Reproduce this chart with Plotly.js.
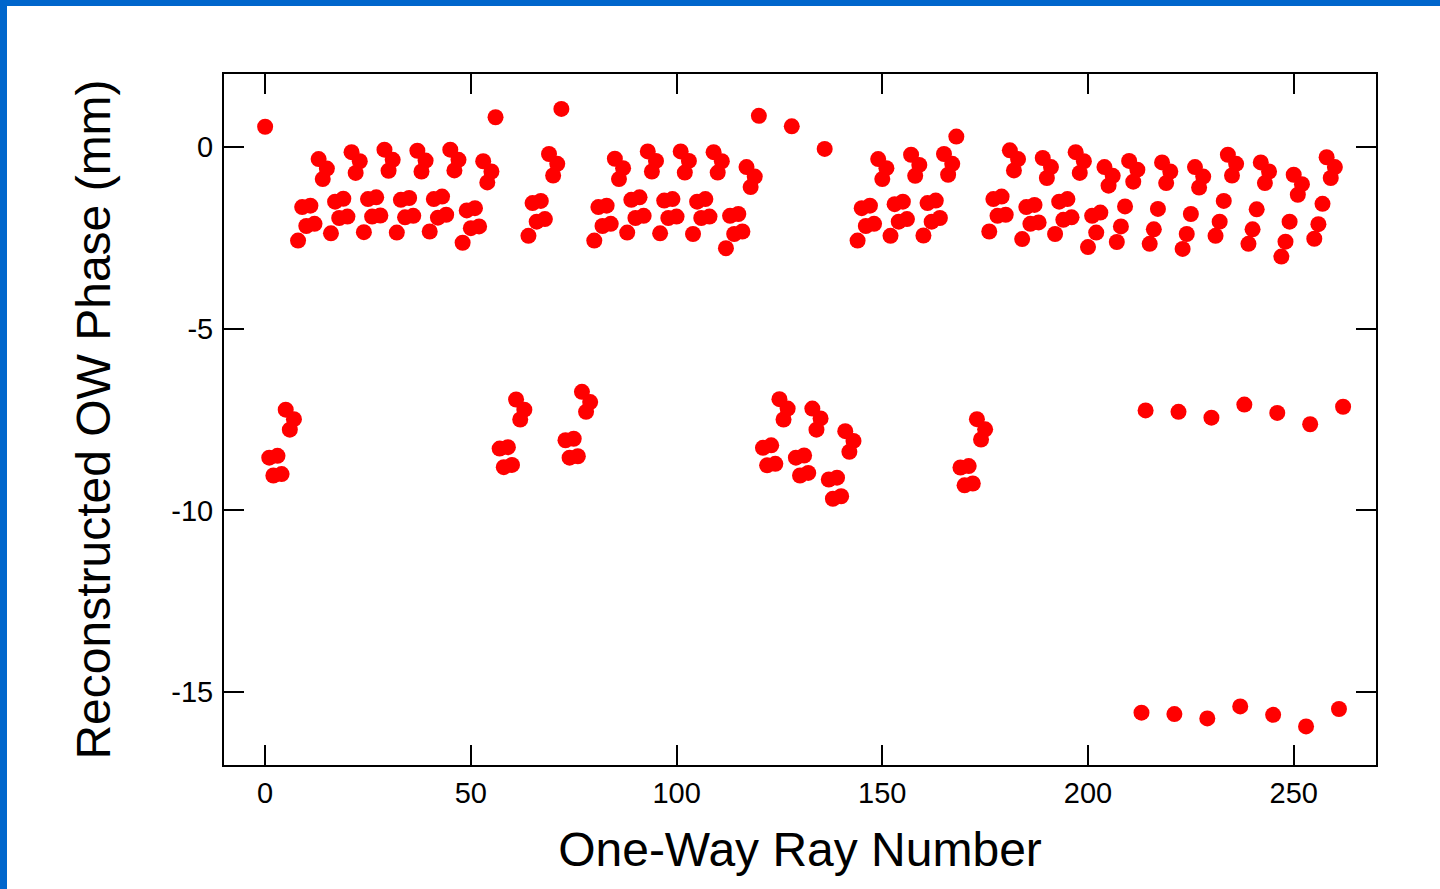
<!DOCTYPE html>
<html>
<head>
<meta charset="utf-8">
<script src="https://cdn.plot.ly/plotly-3.0.1.min.js"></script>
<style>
  html, body { margin: 0; padding: 0; background: #ffffff; }
  #wrap { position: relative; width: 1440px; height: 889px; overflow: hidden; }
  #chart { position: absolute; left: 0; top: 0; width: 1440px; height: 889px; }
  #bl { position: absolute; left: 0; top: 0; width: 7px; height: 889px; background: #0066CC; }
  #bt { position: absolute; left: 0; top: 0; width: 1440px; height: 6px; background: #0066CC; }
</style>
</head>
<body>
<div id="wrap">
  <div id="chart"></div>
  <div id="bl"></div>
  <div id="bt"></div>
</div>
<script>
// One-way ray numbers 0..262 and reconstructed phase (mm)
const rayNumber = [];
for (let i = 0; i <= 262; i++) rayNumber.push(i);

const owPhase = [
  // 0-7
  0.55, -8.55, -9.04, -8.50, -9.00, -7.23, -7.78, -7.49,
  // 8-15
  -2.58, -1.66, -2.18, -1.62, -2.12, -0.34, -0.89, -0.60,
  // 16-23
  -2.38, -1.51, -1.96, -1.43, -1.92, -0.15, -0.72, -0.40,
  // 24-31
  -2.35, -1.44, -1.92, -1.39, -1.89, -0.08, -0.66, -0.36,
  // 32-39
  -2.36, -1.46, -1.94, -1.41, -1.90, -0.11, -0.68, -0.38,
  // 40-47
  -2.33, -1.44, -1.95, -1.37, -1.87, -0.08, -0.65, -0.36,
  // 48-55
  -2.64, -1.75, -2.24, -1.69, -2.19, -0.40, -0.98, -0.68,
  // 56-63
  0.81, -8.30, -8.81, -8.26, -8.75, -6.95, -7.50, -7.23,
  // 64-71
  -2.45, -1.55, -2.06, -1.49, -1.99, -0.20, -0.79, -0.47,
  // 72-79
  1.04, -8.07, -8.55, -8.03, -8.51, -6.74, -7.29, -7.02,
  // 80-87
  -2.58, -1.66, -2.18, -1.62, -2.12, -0.33, -0.89, -0.59,
  // 88-95
  -2.36, -1.46, -1.96, -1.39, -1.90, -0.13, -0.68, -0.39,
  // 96-103
  -2.38, -1.48, -1.96, -1.44, -1.92, -0.13, -0.71, -0.39,
  // 104-111
  -2.40, -1.51, -1.96, -1.44, -1.92, -0.15, -0.71, -0.40,
  // 112-119
  -2.79, -1.90, -2.40, -1.85, -2.33, -0.56, -1.11, -0.82,
  // 120-127
  0.85, -8.28, -8.76, -8.21, -8.72, -6.94, -7.50, -7.20,
  // 128-135
  0.56, -8.55, -9.04, -8.49, -8.97, -7.20, -7.78, -7.47,
  // 136-143
  -0.06, -9.15, -9.68, -9.10, -9.61, -7.82, -8.39, -8.09,
  // 144-151
  -2.58, -1.69, -2.18, -1.62, -2.12, -0.34, -0.89, -0.59,
  // 152-159
  -2.45, -1.58, -2.06, -1.51, -1.99, -0.22, -0.80, -0.50,
  // 160-167
  -2.44, -1.55, -2.06, -1.48, -1.96, -0.20, -0.77, -0.47,
  // 168-175
  0.28, -8.82, -9.31, -8.78, -9.26, -7.49, -8.05, -7.77,
  // 176-183
  -2.33, -1.44, -1.90, -1.37, -1.87, -0.10, -0.65, -0.34,
  // 184-191
  -2.54, -1.66, -2.12, -1.60, -2.08, -0.31, -0.86, -0.56,
  // 192-199
  -2.40, -1.51, -2.01, -1.44, -1.94, -0.15, -0.72, -0.40,
  // 200-206
  -2.76, -1.90, -2.36, -1.81, -0.56, -1.07, -0.80,
  // 207-214
  -2.62, -2.19, -1.64, -0.39, -0.96, -0.63, -15.56, -7.25,
  // 215-222
  -2.67, -2.27, -1.71, -0.43, -1.00, -0.68, -15.60, -7.29,
  // 223-230
  -2.81, -2.40, -1.85, -0.56, -1.12, -0.82, -15.72, -7.45,
  // 231-238
  -2.45, -2.06, -1.49, -0.22, -0.79, -0.47, -15.39, -7.09,
  // 239-246
  -2.67, -2.27, -1.72, -0.43, -1.00, -0.68, -15.62, -7.32,
  // 247-254
  -3.02, -2.61, -2.06, -0.77, -1.32, -1.03, -15.94, -7.63,
  // 255-262
  -2.53, -2.13, -1.57, -0.29, -0.86, -0.56, -15.46, -7.15
];

const xTickVals = [0, 50, 100, 150, 200, 250];
const yTickVals = [-15, -10, -5, 0];

const FONT = '"Liberation Sans", Arial, Helvetica, sans-serif';

const trace = {
  type: 'scatter',
  mode: 'markers',
  x: rayNumber,
  y: owPhase,
  marker: { color: '#FF0000', size: 16, line: { width: 0 } },
  hoverinfo: 'x+y',
  showlegend: false
};

const axisCommon = {
  showline: true,
  linecolor: '#000000',
  linewidth: 2,
  mirror: 'ticks',
  ticks: 'inside',
  ticklen: 20,
  tickwidth: 2,
  tickcolor: '#000000',
  showgrid: false,
  zeroline: false,
  tickfont: { family: FONT, size: 29, color: '#000000' }
};

const layout = {
  width: 1440,
  height: 889,
  margin: { l: 224, r: 64, t: 74, b: 124, pad: 0 },
  paper_bgcolor: '#FFFFFF',
  plot_bgcolor: '#FFFFFF',
  font: { family: FONT, color: '#000000' },
  xaxis: Object.assign({}, axisCommon, {
    range: [-10, 270],
    tickvals: xTickVals,
    ticktext: xTickVals.map(String),
    ticklabelstandoff: 1,
    title: { text: 'One-Way Ray Number', font: { family: FONT, size: 48, color: '#000000' }, standoff: 25 }
  }),
  yaxis: Object.assign({}, axisCommon, {
    range: [-17, 2],
    tickvals: yTickVals,
    ticktext: yTickVals.map(String),
    ticklabelstandoff: 3,
    title: { text: 'Reconstructed OW Phase (mm)', font: { family: FONT, size: 48, color: '#000000' }, standoff: 45 }
  })
};

Plotly.newPlot('chart', [trace], layout, { displayModeBar: false, staticPlot: true });
</script>
</body>
</html>
